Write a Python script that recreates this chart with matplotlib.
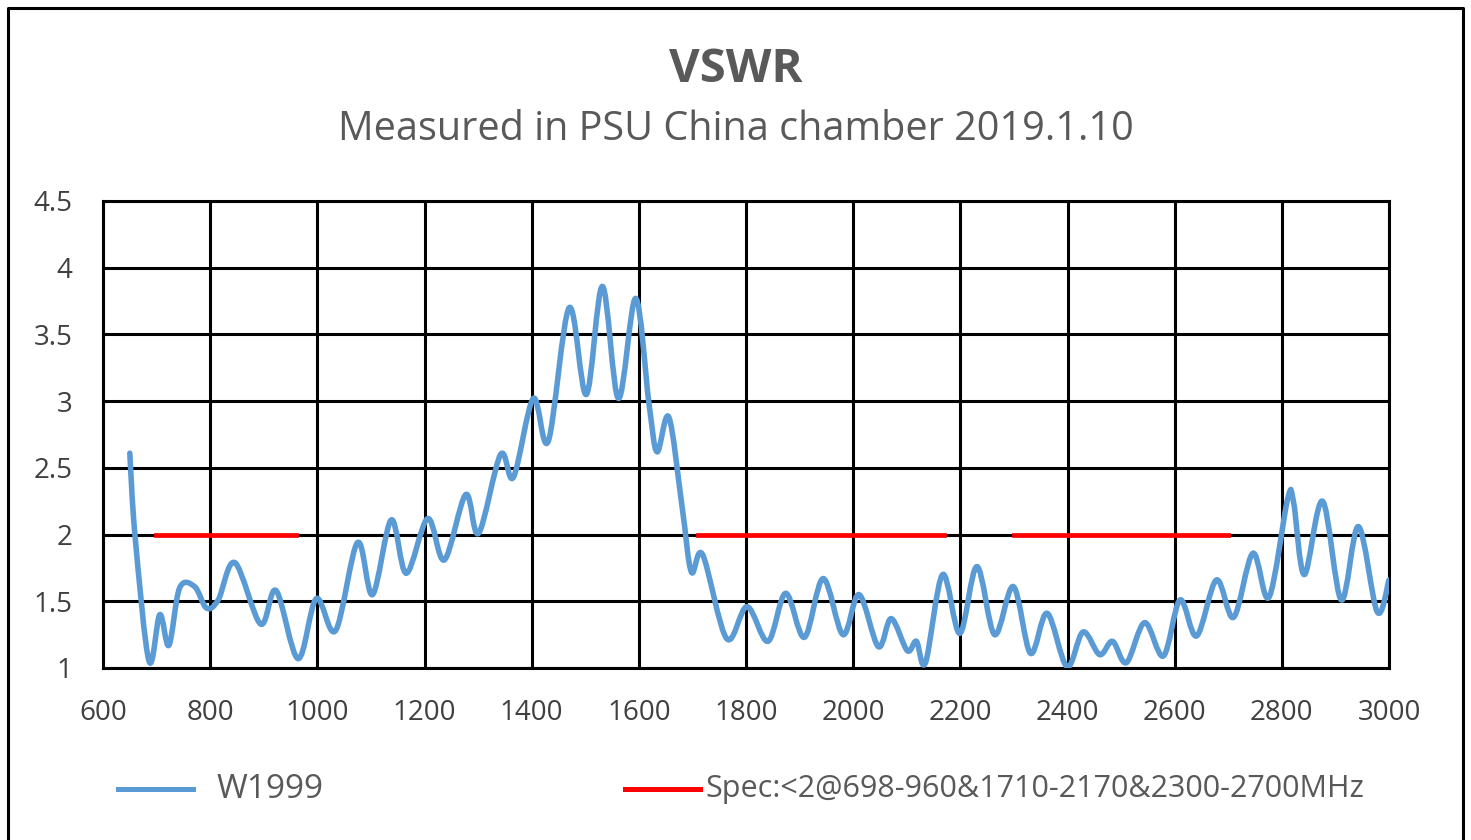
import matplotlib
matplotlib.use("Agg")
import matplotlib.pyplot as plt
from matplotlib.lines import Line2D
from matplotlib.path import Path
from matplotlib.patches import PathPatch

# measured VSWR
freq = [650, 660, 686, 706, 723, 743, 771, 793, 815, 846, 894, 923, 964, 998,
        1034, 1075, 1103, 1138, 1166, 1206, 1237, 1277, 1301, 1342, 1366, 1403,
        1431, 1470, 1502, 1532, 1562, 1594, 1619, 1634, 1656, 1681, 1698, 1719,
        1764, 1802, 1841, 1874, 1909, 1944, 1981, 2011, 2047, 2071, 2101, 2118,
        2135, 2167, 2199, 2231, 2264, 2299, 2331, 2362, 2399, 2429, 2460, 2484,
        2510, 2544, 2579, 2610, 2641, 2678, 2710, 2746, 2776, 2811, 2822, 2842,
        2876, 2911, 2943, 2978, 3000]
vswr = [2.61, 1.98, 1.05, 1.40, 1.17, 1.60, 1.61, 1.45, 1.51, 1.79, 1.33, 1.58,
        1.07, 1.52, 1.28, 1.94, 1.55, 2.11, 1.71, 2.12, 1.81, 2.30, 2.01, 2.60,
        2.43, 3.02, 2.70, 3.70, 3.05, 3.86, 3.02, 3.77, 2.98, 2.62, 2.88, 2.20,
        1.72, 1.85, 1.22, 1.46, 1.20, 1.56, 1.23, 1.67, 1.25, 1.55, 1.16, 1.37,
        1.13, 1.20, 1.04, 1.70, 1.26, 1.76, 1.25, 1.61, 1.11, 1.41, 1.01, 1.27,
        1.10, 1.20, 1.04, 1.34, 1.09, 1.51, 1.24, 1.66, 1.38, 1.86, 1.53, 2.27,
        2.24, 1.70, 2.25, 1.51, 2.06, 1.42, 1.66]

# spec limit <2 in three bands
spec_start = [698, 1710, 2300]
spec_end = [960, 2170, 2700]
spec_limit = 2

xticks = list(range(600, 3001, 200))
yticks = [1, 1.5, 2, 2.5, 3, 3.5, 4, 4.5]
ylabels = ["1", "1.5", "2", "2.5", "3", "3.5", "4", "4.5"]

plt.rcParams['font.family'] = ['Open Sans', 'DejaVu Sans']
grey = '#595959'

fig = plt.figure(figsize=(14.71, 8.4), dpi=100)
ax = fig.add_axes([103/1471, 1-668/840, (1389-103)/1471, (668-201)/840])

# smoothed line like excel: bezier segments through the measured points
verts = [(freq[0], vswr[0])]
codes = [Path.MOVETO]
n = len(freq)
for i in range(n - 1):
    x0, y0 = freq[max(i-1, 0)], vswr[max(i-1, 0)]
    x1, y1 = freq[i], vswr[i]
    x2, y2 = freq[i+1], vswr[i+1]
    x3, y3 = freq[min(i+2, n-1)], vswr[min(i+2, n-1)]
    verts += [(x1 + (x2 - x0)/6, y1 + (y2 - y0)/6),
              (x2 - (x3 - x1)/6, y2 - (y3 - y1)/6),
              (x2, y2)]
    codes += [Path.CURVE4] * 3
ax.add_patch(PathPatch(Path(verts, codes), facecolor='none', edgecolor='#5B9BD5',
                       lw=4, capstyle='round', joinstyle='round', zorder=3))

for s, e in zip(spec_start, spec_end):
    ax.plot([s, e], [spec_limit, spec_limit], color='#FF0000', lw=3.4, zorder=4)

ax.set_xlim(600, 3000)
ax.set_ylim(1, 4.5)
ax.set_xticks(xticks)
ax.set_yticks(yticks)
ax.set_yticklabels(ylabels)
ax.grid(True, color='black', lw=2.2)
ax.set_axisbelow(True)
for sp in ax.spines.values():
    sp.set_color('black')
    sp.set_linewidth(2.2)
ax.tick_params(axis='x', length=0, pad=22, labelsize=20, labelcolor='#404040')
ax.tick_params(axis='y', length=0, pad=22, labelsize=20, labelcolor='#404040')

fig.text(0.5, 1-70/840, 'VSWR', ha='center', va='center', fontsize=34,
         fontweight='bold', color=grey)
fig.text(0.5, 1-130/840, 'Measured in PSU China chamber 2019.1.10', ha='center',
         va='center', fontsize=28.5, color=grey)

# legend drawn by hand to match the wide spacing
ly = 1-789/840
fig.add_artist(Line2D([118/1471, 193/1471], [ly, ly], color='#5B9BD5', lw=3.6))
fig.text(217/1471, ly, 'W1999', ha='left', va='center', fontsize=24, color=grey)
fig.add_artist(Line2D([625/1471, 700/1471], [ly, ly], color='#FF0000', lw=3.6))
fig.text(705/1471, ly, 'Spec:<2@698-960&1710-2170&2300-2700MHz', ha='left',
         va='center', fontsize=22, color=grey)

# outer frame
fx0, fx1, fy1 = 8/1471, 1463/1471, 1-8/840
fig.add_artist(Line2D([fx0, fx0, fx1, fx1], [0, fy1, fy1, 0], color='black', lw=2.2))

fig.savefig('out.png', dpi=100)
